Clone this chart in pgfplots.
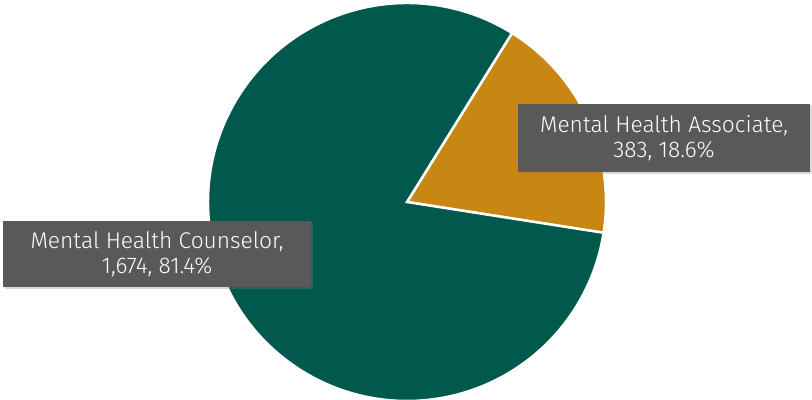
\documentclass[border=0pt]{standalone}
\usepackage{pgfplots}
\pgfplotsset{compat=1.18}
\usepackage{pgfplotstable}
\usetikzlibrary{shadows}
\usepackage{fontspec}
\setmainfont{Fira Sans Light}
\definecolor{cgreen}{RGB}{0,89,76}
\definecolor{cgold}{RGB}{200,134,18}
\definecolor{cbox}{RGB}{89,89,89}
\pgfplotstableread{
name value
Associate 383
Counselor 1674
}\piedata
\begin{document}%
\begin{tikzpicture}
\pgfplotstablegetelem{0}{value}\of\piedata \let\va\pgfplotsretval
\pgfplotstablegetelem{1}{value}\of\piedata \let\vb\pgfplotsretval
\pgfmathsetmacro{\fa}{\va/(\va+\vb)}
\pgfmathsetmacro{\astart}{-8.9}
\pgfmathsetmacro{\aend}{\astart+360*\fa}
\pgfmathsetmacro{\bend}{\astart+360}
\begin{axis}[
  scale only axis, width=812bp, height=400bp,
  xmin=0, xmax=812, ymin=0, ymax=400,
  hide axis, clip=false,
]
\fill[cgold, draw=white, line width=2.5bp, line join=miter]
  (axis cs:407,198) -- ++(\astart:199bp) arc[start angle=\astart, end angle=\aend, radius=199bp] -- cycle;
\fill[cgreen, draw=white, line width=2.5bp, line join=miter]
  (axis cs:407,198) -- ++(\aend:199bp) arc[start angle=\aend, end angle=\bend, radius=199bp] -- cycle;
\node[fill=cbox, text=white, minimum width=292bp, minimum height=68bp, inner sep=0pt,
  align=center, font=\fontsize{22.8}{25}\selectfont, drop shadow={opacity=0.3, shadow xshift=1.5bp, shadow yshift=-1.5bp}]
  at (axis cs:664,262) {Mental Health Associate,\\383, 18.6\%};
\node[fill=cbox, text=white, minimum width=308bp, minimum height=66bp, inner sep=0pt,
  align=center, font=\fontsize{22.8}{25}\selectfont, drop shadow={opacity=0.3, shadow xshift=1.5bp, shadow yshift=-1.5bp}]
  at (axis cs:157,146) {Mental Health Counselor,\\1,674, 81.4\%};
\end{axis}
\pgfresetboundingbox
\useasboundingbox (0,0) rectangle (812bp,400bp);
\end{tikzpicture}%
\end{document}
